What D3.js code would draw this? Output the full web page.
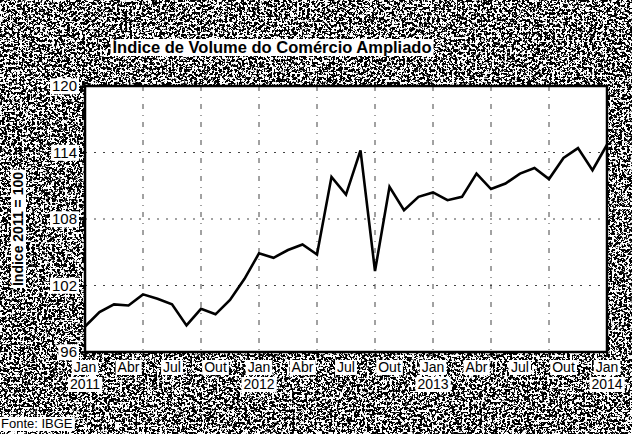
<!DOCTYPE html>
<html>
<head>
<meta charset="utf-8">
<script src="https://cdn.jsdelivr.net/npm/d3@7"></script>
<style>
  html, body { margin: 0; padding: 0; background: #fff; }
  svg { display: block; font-family: "Liberation Sans", Arial, sans-serif; }
</style>
</head>
<body>
<div id="app"></div>
<script>
// dados: índice mensal jan/2011 a jan/2014 (2011 = 100)
const months = ['Jan', 'Fev', 'Mar', 'Abr', 'Mai', 'Jun', 'Jul', 'Ago', 'Set', 'Out', 'Nov', 'Dez'];
const startYear = 2011;
const values = [
  98.3, 99.6, 100.3, 100.2, 101.2, 100.8, 100.3, 98.4, 99.9, 99.4, 100.7, 102.6,
  104.9, 104.5, 105.2, 105.7, 104.8, 111.8, 110.2, 114.2, 103.3, 110.9, 108.8, 110.0,
  110.4, 109.7, 110.0, 112.1, 110.7, 111.2, 112.1, 112.6, 111.6, 113.5, 114.4, 112.4,
  114.7
];
const yTicks = [96, 102, 108, 114, 120];
const yGrid = [102, 108, 114];
const title = 'Índice de Volume do Comércio Ampliado';
const yTitle = 'Índice 2011 = 100';
const source = 'Fonte: IBGE';

const width = 632, height = 434;
const margin = { top: 86, right: 25, bottom: 82, left: 85 };

const svg = d3.select('#app').append('svg')
  .attr('width', width)
  .attr('height', height);

// textura de digitalização (ruído determinístico)
const defs = svg.append('defs');
function noiseFilter(id, seed) {
  const f = defs.append('filter').attr('id', id)
    .attr('filterUnits', 'userSpaceOnUse')
    .attr('color-interpolation-filters', 'sRGB')
    .attr('x', 0).attr('y', 0).attr('width', width).attr('height', height);
  f.append('feTurbulence').attr('type', 'fractalNoise')
    .attr('baseFrequency', '0.4').attr('numOctaves', 3).attr('seed', seed);
  f.append('feColorMatrix').attr('type', 'saturate').attr('values', 0);
  const ct = f.append('feComponentTransfer');
  ['feFuncR', 'feFuncG', 'feFuncB'].forEach(n =>
    ct.append(n).attr('type', 'linear').attr('slope', 25).attr('intercept', -12.5));
  ct.append('feFuncA').attr('type', 'linear').attr('slope', 0).attr('intercept', 1);
}
noiseFilter('noiseA', 7);
noiseFilter('noiseB', 11);
noiseFilter('noiseC', 3);

const bg = svg.append('g').style('isolation', 'isolate');
bg.append('rect')
  .attr('x', 0).attr('y', 16)
  .attr('width', width).attr('height', height - 16)
  .attr('filter', 'url(#noiseA)');
// faixa inferior e coluna esquerda mais escuras
bg.append('rect')
  .attr('x', 0).attr('y', 384)
  .attr('width', width).attr('height', height - 384)
  .attr('filter', 'url(#noiseB)')
  .style('mix-blend-mode', 'multiply');
bg.append('rect')
  .attr('x', 0).attr('y', 90)
  .attr('width', 78).attr('height', 260)
  .attr('filter', 'url(#noiseB)')
  .style('mix-blend-mode', 'multiply');
// faixa direita mais clara
bg.append('rect')
  .attr('x', 612).attr('y', 90)
  .attr('width', 20).attr('height', 260)
  .attr('filter', 'url(#noiseC)')
  .style('mix-blend-mode', 'screen');

const x = d3.scaleLinear()
  .domain([0, values.length - 1])
  .range([margin.left, width - margin.right]);

const y = d3.scaleLinear()
  .domain([96, 120])
  .range([height - margin.bottom, margin.top]);

// área do gráfico
svg.append('rect')
  .attr('x', x(0)).attr('y', y(120))
  .attr('width', x(values.length - 1) - x(0))
  .attr('height', y(96) - y(120))
  .attr('fill', '#fff');

// grades
const grid = svg.append('g').attr('stroke', '#444').attr('stroke-width', 1)
  .attr('stroke-dasharray', '2,7');
grid.selectAll('line.h')
  .data(yGrid)
  .join('line')
  .attr('class', 'h')
  .attr('x1', x(0)).attr('x2', x(values.length - 1))
  .attr('y1', d => y(d)).attr('y2', d => y(d));
grid.selectAll('line.v')
  .data(d3.range(4, values.length - 1, 4))
  .join('line')
  .attr('class', 'v')
  .attr('x1', d => x(d)).attr('x2', d => x(d))
  .attr('y1', y(120)).attr('y2', y(96))
  .attr('stroke-dasharray', '5,6,1,6');

// eixo y
const yAxis = svg.append('g')
  .attr('transform', `translate(${x(0)},0)`)
  .call(d3.axisLeft(y).tickValues(yTicks).tickSize(5).tickPadding(3));
yAxis.select('.domain').remove();
yAxis.selectAll('line').attr('stroke', '#000').attr('stroke-width', 2);
yAxis.selectAll('text')
  .attr('font-size', 15)
  .attr('fill', '#000');

// eixo x: marcas a cada 4 meses, rótulos a cada 3 meses
const xAxis = svg.append('g')
  .attr('transform', `translate(0,${y(96)})`)
  .call(d3.axisBottom(x).tickValues(d3.range(0, values.length, 4)).tickSize(5).tickFormat(''));
xAxis.select('.domain').remove();
xAxis.selectAll('line').attr('stroke', '#000').attr('stroke-width', 2);

const labelIdx = d3.range(0, values.length, 3);
const xl = svg.append('g').attr('font-size', 14).attr('text-anchor', 'middle');
xl.selectAll('text.m')
  .data(labelIdx)
  .join('text')
  .attr('class', 'm')
  .attr('x', d => x(d))
  .attr('y', y(96) + 20)
  .text(d => months[d % 12]);
xl.selectAll('text.yr')
  .data(labelIdx.filter(d => d % 12 === 0))
  .join('text')
  .attr('class', 'yr')
  .attr('x', d => x(d))
  .attr('y', y(96) + 37)
  .text(d => startYear + d / 12);

// moldura
svg.append('rect')
  .attr('x', x(0)).attr('y', y(120))
  .attr('width', x(values.length - 1) - x(0))
  .attr('height', y(96) - y(120))
  .attr('fill', 'none')
  .attr('stroke', '#000')
  .attr('stroke-width', 2.5);

// série
svg.append('path')
  .datum(values)
  .attr('fill', 'none')
  .attr('stroke', '#000')
  .attr('stroke-width', 2.6)
  .attr('stroke-linejoin', 'miter')
  .attr('d', d3.line().x((d, i) => x(i)).y(d => y(d)));

// títulos
svg.append('text')
  .attr('x', 272).attr('y', 53)
  .attr('text-anchor', 'middle')
  .attr('font-size', 16.5)
  .attr('font-weight', 'bold')
  .text(title);

svg.append('text')
  .attr('transform', `translate(23,${(y(96) + y(120)) / 2 + 10}) rotate(-90)`)
  .attr('text-anchor', 'middle')
  .attr('font-size', 14)
  .attr('font-weight', 'bold')
  .text(yTitle);

svg.append('text')
  .attr('x', 1).attr('y', 428)
  .attr('font-size', 13)
  .text(source);

// fundo branco atrás dos textos (efeito da digitalização)
svg.selectAll('text').each(function () {
  const b = this.getBBox();
  const t = this.getAttribute('transform');
  const r = document.createElementNS('http://www.w3.org/2000/svg', 'rect');
  r.setAttribute('x', b.x - 2);
  r.setAttribute('y', b.y + 1);
  r.setAttribute('width', b.width + 4);
  r.setAttribute('height', b.height - 1);
  r.setAttribute('fill', '#fff');
  if (t) r.setAttribute('transform', t);
  this.parentNode.insertBefore(r, this);
});
</script>
</body>
</html>
